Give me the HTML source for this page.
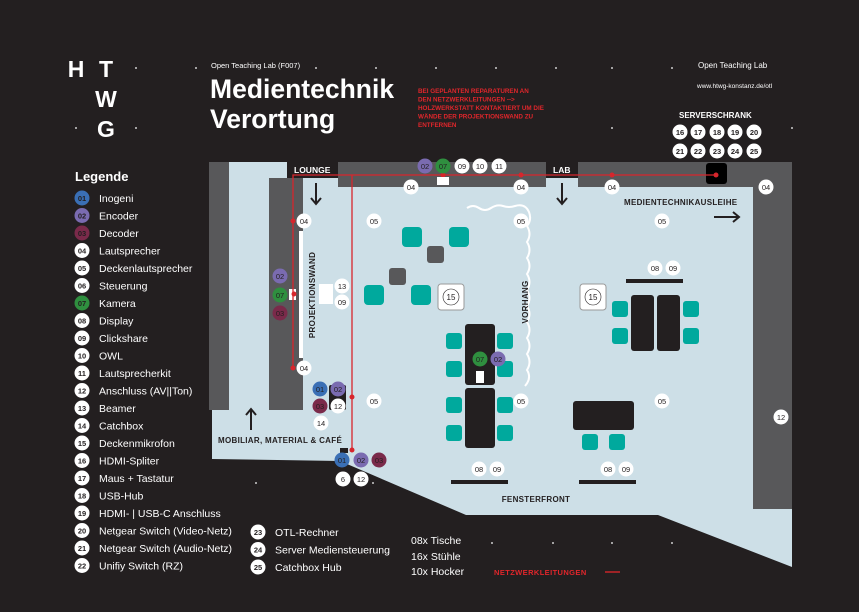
<!DOCTYPE html>
<html><head><meta charset="utf-8"><style>
html,body{margin:0;padding:0;background:#231f20;}
svg{display:block;font-family:"Liberation Sans",sans-serif;}
</style></head><body>
<svg width="859" height="612" viewBox="0 0 859 612" xmlns="http://www.w3.org/2000/svg">
<rect width="859" height="612" fill="#231f20"/>
<!-- floor -->
<polygon points="212,162 792,162 792,567 658,515 466,515 340,461 212,459" fill="#cddfe7"/>
<!-- walls -->
<rect x="209" y="162" width="20" height="248" fill="#58585a"/>
<rect x="269" y="178" width="34" height="232" fill="#58585a"/>
<rect x="287" y="162" width="51" height="16" fill="#231f20"/>
<rect x="338" y="162" width="208" height="25" fill="#58585a"/>
<rect x="546" y="162" width="32" height="16" fill="#231f20"/>
<rect x="578" y="162" width="214" height="25" fill="#58585a"/>
<rect x="753" y="187" width="39" height="322" fill="#58585a"/>
<rect x="706" y="163" width="21" height="21" rx="3" fill="#000"/>
<g font-weight="bold" font-size="8.5" fill="#fff">
<text x="294" y="173">LOUNGE</text>
<text x="553" y="173">LAB</text>
</g>
<!-- projection wall -->
<rect x="299" y="231" width="4" height="127" fill="#fff"/>
<rect x="289" y="289" width="7" height="11" fill="#fff"/>
<rect x="319" y="284" width="14" height="20" fill="#fff"/>
<!-- red lines -->
<g stroke="#d7262c" stroke-width="1.3" fill="none">
<polyline points="293,368 293,175 716,175"/>
<line x1="352" y1="175" x2="352" y2="450"/>
</g>
<g fill="#d7262c">
<circle cx="293" cy="221" r="2.5"/><circle cx="293" cy="368" r="2.5"/><circle cx="294" cy="294" r="2.5"/>
<circle cx="352" cy="397" r="2.5"/><circle cx="352" cy="450" r="2.5"/>
<circle cx="443" cy="175" r="2.5"/><circle cx="521" cy="175" r="2.5"/><circle cx="612" cy="175" r="2.5"/><circle cx="716" cy="175" r="2.5"/>
</g>
<rect x="437" y="177" width="12" height="8" fill="#fff"/>
<!-- arrows -->
<g stroke="#231f20" stroke-width="2" fill="none">
<path d="M316,183 V204 M311,198 L316,204 L321,198"/>
<path d="M562,183 V204 M557,198 L562,204 L567,198"/>
<path d="M251,430 V409 M246,415 L251,409 L256,415"/>
<path d="M714,217 H739 M733,212 L739,217 L733,222"/>
</g>
<!-- curtain -->
<path d="M467,208 q6,-4 12,0 t12,0 t12,-2 t12,0 q10,-3 14,6 q3,8 -2,14 q5,8 0,16 q5,8 0,16 q5,8 0,16 q5,8 0,16 q5,8 0,16 q5,8 0,16 q5,8 0,16 q5,8 0,16 q5,8 0,16 q5,8 -2,16" stroke="#fff" stroke-width="2" fill="none"/>
<!-- furniture -->
<g fill="#00a99d">
<rect x="402" y="227" width="20" height="20" rx="4"/><rect x="449" y="227" width="20" height="20" rx="4"/>
<rect x="364" y="285" width="20" height="20" rx="4"/><rect x="411" y="285" width="20" height="20" rx="4"/>
<rect x="446" y="333" width="16" height="16" rx="3"/><rect x="446" y="361" width="16" height="16" rx="3"/>
<rect x="446" y="397" width="16" height="16" rx="3"/><rect x="446" y="425" width="16" height="16" rx="3"/>
<rect x="497" y="333" width="16" height="16" rx="3"/><rect x="497" y="361" width="16" height="16" rx="3"/>
<rect x="497" y="397" width="16" height="16" rx="3"/><rect x="497" y="425" width="16" height="16" rx="3"/>
<rect x="612" y="301" width="16" height="16" rx="3"/><rect x="612" y="328" width="16" height="16" rx="3"/>
<rect x="683" y="301" width="16" height="16" rx="3"/><rect x="683" y="328" width="16" height="16" rx="3"/>
<rect x="582" y="434" width="16" height="16" rx="3"/><rect x="609" y="434" width="16" height="16" rx="3"/>
</g>
<g fill="#58585a"><rect x="427" y="246" width="17" height="17" rx="3"/><rect x="389" y="268" width="17" height="17" rx="3"/></g>
<g fill="#231f20">
<rect x="465" y="324" width="30" height="61" rx="3"/><rect x="465" y="388" width="30" height="60" rx="3"/>
<rect x="631" y="295" width="23" height="56" rx="3"/><rect x="657" y="295" width="23" height="56" rx="3"/>
<rect x="573" y="401" width="61" height="29" rx="3"/>
<rect x="626" y="279" width="57" height="4"/><rect x="451" y="480" width="57" height="4"/><rect x="579" y="480" width="57" height="4"/>
<rect x="329" y="385" width="17" height="25" rx="2"/><rect x="340" y="448" width="8" height="5"/>
</g>
<rect x="476" y="371" width="8" height="12" fill="#fff"/>
<g stroke="#999" fill="#fff"><rect x="438" y="284" width="26" height="26" rx="3"/><rect x="580" y="284" width="26" height="26" rx="3"/></g>
<g stroke="#231f20" stroke-width="0.6" fill="none"><circle cx="451" cy="297" r="8"/><circle cx="593" cy="297" r="8"/></g>
<g font-size="8" fill="#231f20" text-anchor="middle"><text x="451" y="300">15</text><text x="593" y="300">15</text></g>
<!-- labels on floor -->
<g font-weight="bold" font-size="8" fill="#231f20" letter-spacing="0.3">
<text x="218" y="443">MOBILIAR, MATERIAL &amp; CAFÉ</text>
<text x="624" y="205">MEDIENTECHNIKAUSLEIHE</text>
<text x="536" y="502" text-anchor="middle">FENSTERFRONT</text>
<text transform="translate(315,295) rotate(-90)" text-anchor="middle">PROJEKTIONSWAND</text>
<text transform="translate(528,302) rotate(-90)" text-anchor="middle">VORHANG</text>
</g>
<!-- circles -->
<g font-size="7.5" text-anchor="middle">
<g fill="#fff">
<circle cx="411" cy="187" r="7.5"/><circle cx="521" cy="187" r="7.5"/><circle cx="612" cy="187" r="7.5"/><circle cx="766" cy="187" r="7.5"/>
<circle cx="304" cy="221" r="7.5"/><circle cx="304" cy="368" r="7.5"/>
<circle cx="374" cy="221" r="7.5"/><circle cx="521" cy="221" r="7.5"/><circle cx="662" cy="221" r="7.5"/>
<circle cx="374" cy="401" r="7.5"/><circle cx="521" cy="401" r="7.5"/><circle cx="662" cy="401" r="7.5"/>
<circle cx="462" cy="166" r="7.5"/><circle cx="480" cy="166" r="7.5"/><circle cx="499" cy="166" r="7.5"/>
<circle cx="342" cy="286" r="7.5"/><circle cx="342" cy="302" r="7.5"/>
<circle cx="338" cy="406" r="7.5"/><circle cx="321" cy="423" r="7.5"/>
<circle cx="343" cy="479" r="7.5"/><circle cx="361" cy="479" r="7.5"/>
<circle cx="655" cy="268" r="7.5"/><circle cx="673" cy="268" r="7.5"/>
<circle cx="479" cy="469" r="7.5"/><circle cx="497" cy="469" r="7.5"/>
<circle cx="608" cy="469" r="7.5"/><circle cx="626" cy="469" r="7.5"/>
<circle cx="781" cy="417" r="7.5"/>
</g>
<g fill="#3a6fb5"><circle cx="320" cy="389" r="7.5"/><circle cx="342" cy="460" r="7.5"/></g>
<g fill="#7a6bb0"><circle cx="425" cy="166" r="7.5"/><circle cx="280" cy="276" r="7.5"/><circle cx="338" cy="389" r="7.5"/><circle cx="361" cy="460" r="7.5"/><circle cx="498" cy="359" r="7.5"/></g>
<g fill="#2f8f3f"><circle cx="443" cy="166" r="7.5"/><circle cx="280" cy="295" r="7.5"/><circle cx="480" cy="359" r="7.5"/></g>
<g fill="#7a2a4a"><circle cx="280" cy="313" r="7.5"/><circle cx="320" cy="406" r="7.5"/><circle cx="379" cy="460" r="7.5"/></g>
<g fill="#231f20">
<text x="411" y="190">04</text><text x="521" y="190">04</text><text x="612" y="190">04</text><text x="766" y="190">04</text>
<text x="304" y="224">04</text><text x="304" y="371">04</text>
<text x="374" y="224">05</text><text x="521" y="224">05</text><text x="662" y="224">05</text>
<text x="374" y="404">05</text><text x="521" y="404">05</text><text x="662" y="404">05</text>
<text x="462" y="169">09</text><text x="480" y="169">10</text><text x="499" y="169">11</text>
<text x="342" y="289">13</text><text x="342" y="305">09</text>
<text x="338" y="409">12</text><text x="321" y="426">14</text>
<text x="343" y="482">6</text><text x="361" y="482">12</text>
<text x="655" y="271">08</text><text x="673" y="271">09</text>
<text x="479" y="472">08</text><text x="497" y="472">09</text>
<text x="608" y="472">08</text><text x="626" y="472">09</text>
<text x="781" y="420">12</text>
<text x="320" y="392">01</text><text x="342" y="463">01</text>
<text x="425" y="169">02</text><text x="280" y="279">02</text><text x="338" y="392">02</text><text x="361" y="463">02</text><text x="498" y="362">02</text>
<text x="443" y="169">07</text><text x="280" y="298">07</text><text x="480" y="362">07</text>
<text x="280" y="316">03</text><text x="320" y="409">03</text><text x="379" y="463">03</text>
</g>
</g>
<!-- header -->
<g fill="#fff" font-weight="bold" font-size="23" text-anchor="middle">
<text x="76" y="77">H</text><text x="106" y="77">T</text><text x="106" y="107">W</text><text x="106" y="137">G</text>
</g>
<g fill="#fff">
<circle cx="136" cy="68" r="0.9"/><circle cx="196" cy="68" r="0.9"/><circle cx="316" cy="68" r="0.9"/><circle cx="376" cy="68" r="0.9"/><circle cx="436" cy="68" r="0.9"/><circle cx="496" cy="68" r="0.9"/><circle cx="556" cy="68" r="0.9"/><circle cx="612" cy="68" r="0.9"/><circle cx="672" cy="68" r="0.9"/>
<circle cx="76" cy="128" r="0.9"/><circle cx="136" cy="128" r="0.9"/><circle cx="612" cy="128" r="0.9"/><circle cx="792" cy="128" r="0.9"/>
<circle cx="256" cy="483" r="0.9"/><circle cx="373" cy="483" r="0.9"/><circle cx="492" cy="543" r="0.9"/><circle cx="553" cy="543" r="0.9"/><circle cx="612" cy="543" r="0.9"/><circle cx="672" cy="543" r="0.9"/>
</g>
<text x="211" y="68" fill="#fff" font-size="7.5">Open Teaching Lab (F007)</text>
<text x="210" y="98" fill="#fff" font-weight="bold" font-size="26.5">Medientechnik</text>
<text x="210" y="128" fill="#fff" font-weight="bold" font-size="26.5">Verortung</text>
<g fill="#e0262b" font-size="6.3" font-weight="bold">
<text x="418" y="93">BEI GEPLANTEN REPARATUREN AN</text>
<text x="418" y="101.5">DEN NETZWERKLEITUNGEN --&gt;</text>
<text x="418" y="110">HOLZWERKSTATT KONTAKTIERT UM DIE</text>
<text x="418" y="118.5">WÄNDE DER PROJEKTIONSWAND ZU</text>
<text x="418" y="127">ENTFERNEN</text>
</g>
<text x="698" y="68" fill="#fff" font-size="8">Open Teaching Lab</text>
<text x="697" y="88" fill="#fff" font-size="6.5">www.htwg-konstanz.de/otl</text>
<text x="679" y="118" fill="#fff" font-size="8" font-weight="bold">SERVERSCHRANK</text>
<g font-size="7.5" text-anchor="middle" font-weight="bold">
<g fill="#fff"><circle cx="680" cy="132" r="7.5"/><circle cx="698" cy="132" r="7.5"/><circle cx="717" cy="132" r="7.5"/><circle cx="735" cy="132" r="7.5"/><circle cx="754" cy="132" r="7.5"/>
<circle cx="680" cy="151" r="7.5"/><circle cx="698" cy="151" r="7.5"/><circle cx="717" cy="151" r="7.5"/><circle cx="735" cy="151" r="7.5"/><circle cx="754" cy="151" r="7.5"/></g>
<g fill="#231f20"><text x="680" y="135">16</text><text x="698" y="135">17</text><text x="717" y="135">18</text><text x="735" y="135">19</text><text x="754" y="135">20</text>
<text x="680" y="154">21</text><text x="698" y="154">22</text><text x="717" y="154">23</text><text x="735" y="154">24</text><text x="754" y="154">25</text></g>
</g>
<!-- legend -->
<text x="75" y="181" fill="#fff" font-weight="bold" font-size="13">Legende</text>
<g font-size="10.5" fill="#fff">
<text x="99" y="202">Inogeni</text><text x="99" y="219.5">Encoder</text><text x="99" y="237">Decoder</text>
<text x="99" y="254.5">Lautsprecher</text><text x="99" y="272">Deckenlautsprecher</text><text x="99" y="289.5">Steuerung</text>
<text x="99" y="307">Kamera</text><text x="99" y="324.5">Display</text><text x="99" y="342">Clickshare</text>
<text x="99" y="359.5">OWL</text><text x="99" y="377">Lautsprecherkit</text><text x="99" y="394.5">Anschluss (AV||Ton)</text>
<text x="99" y="412">Beamer</text><text x="99" y="429.5">Catchbox</text><text x="99" y="447">Deckenmikrofon</text>
<text x="99" y="464.5">HDMI-Spliter</text><text x="99" y="482">Maus + Tastatur</text><text x="99" y="499.5">USB-Hub</text>
<text x="99" y="517">HDMI- | USB-C Anschluss</text><text x="99" y="534.5">Netgear Switch (Video-Netz)</text>
<text x="99" y="552">Netgear Switch (Audio-Netz)</text><text x="99" y="569.5">Unifiy Switch (RZ)</text>
<text x="275" y="536">OTL-Rechner</text><text x="275" y="553.5">Server Mediensteuerung</text><text x="275" y="571">Catchbox Hub</text>
<text x="411" y="544">08x Tische</text><text x="411" y="560">16x Stühle</text><text x="411" y="575">10x Hocker</text>
</g>
<g font-size="7.5" text-anchor="middle" font-weight="bold">
<circle cx="82" cy="198" r="7.5" fill="#3a6fb5"/><circle cx="82" cy="215.5" r="7.5" fill="#7a6bb0"/><circle cx="82" cy="233" r="7.5" fill="#7a2a4a"/>
<circle cx="82" cy="303" r="7.5" fill="#2f8f3f"/>
<g fill="#fff">
<circle cx="82" cy="250.5" r="7.5"/><circle cx="82" cy="268" r="7.5"/><circle cx="82" cy="285.5" r="7.5"/>
<circle cx="82" cy="320.5" r="7.5"/><circle cx="82" cy="338" r="7.5"/><circle cx="82" cy="355.5" r="7.5"/><circle cx="82" cy="373" r="7.5"/><circle cx="82" cy="390.5" r="7.5"/><circle cx="82" cy="408" r="7.5"/><circle cx="82" cy="425.5" r="7.5"/><circle cx="82" cy="443" r="7.5"/><circle cx="82" cy="460.5" r="7.5"/><circle cx="82" cy="478" r="7.5"/><circle cx="82" cy="495.5" r="7.5"/><circle cx="82" cy="513" r="7.5"/><circle cx="82" cy="530.5" r="7.5"/><circle cx="82" cy="548" r="7.5"/><circle cx="82" cy="565.5" r="7.5"/>
<circle cx="258" cy="532" r="7.5"/><circle cx="258" cy="549.5" r="7.5"/><circle cx="258" cy="567" r="7.5"/>
</g>
<g fill="#231f20">
<text x="82" y="201">01</text><text x="82" y="218.5">02</text><text x="82" y="236">03</text><text x="82" y="253.5">04</text><text x="82" y="271">05</text><text x="82" y="288.5">06</text><text x="82" y="306">07</text><text x="82" y="323.5">08</text><text x="82" y="341">09</text><text x="82" y="358.5">10</text><text x="82" y="376">11</text><text x="82" y="393.5">12</text><text x="82" y="411">13</text><text x="82" y="428.5">14</text><text x="82" y="446">15</text><text x="82" y="463.5">16</text><text x="82" y="481">17</text><text x="82" y="498.5">18</text><text x="82" y="516">19</text><text x="82" y="533.5">20</text><text x="82" y="551">21</text><text x="82" y="568.5">22</text>
<text x="258" y="535">23</text><text x="258" y="552.5">24</text><text x="258" y="570">25</text>
</g>
</g>
<text x="494" y="575" fill="#e0262b" font-size="7.5" font-weight="bold" letter-spacing="0.4">NETZWERKLEITUNGEN</text>
<line x1="605" y1="572" x2="620" y2="572" stroke="#e0262b" stroke-width="1.3"/>
</svg>
</body></html>
